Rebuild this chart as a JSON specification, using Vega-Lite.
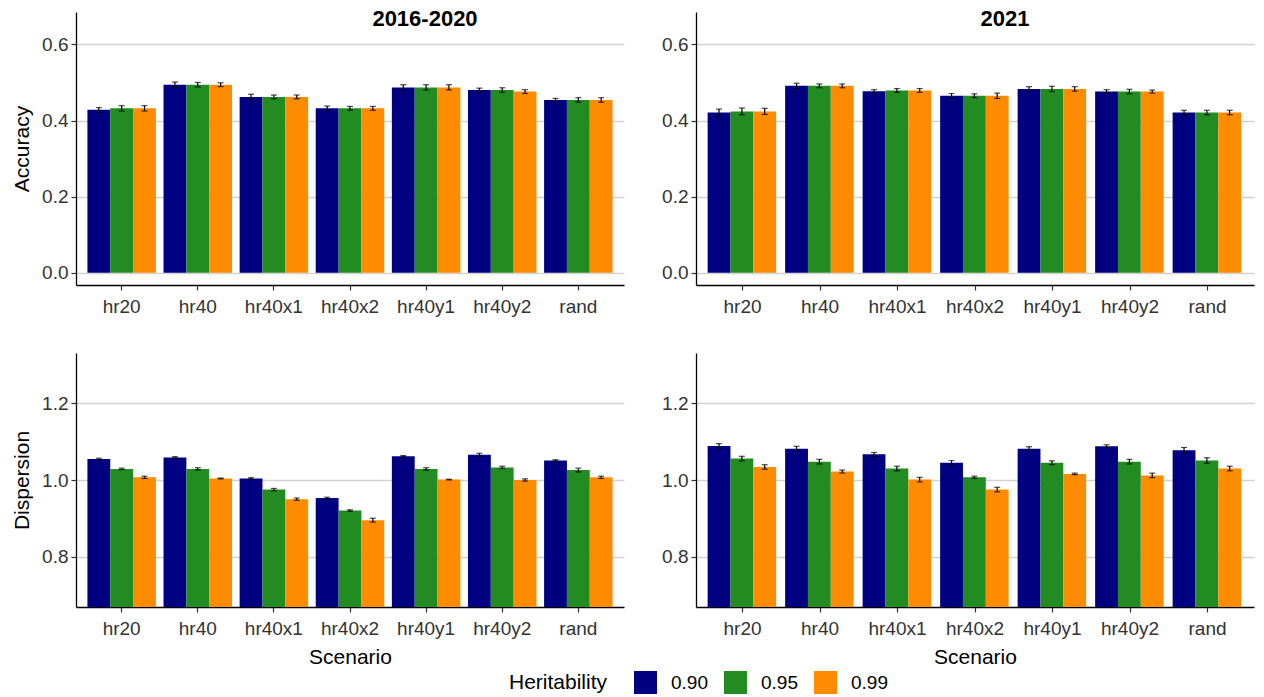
{
  "$schema": "https://vega.github.io/schema/vega-lite/v6.json",
  "padding": {"left": 11, "top": 8, "right": 5, "bottom": 0},
  "autosize": {"type": "pad"},
  "config": {
    "font": "Liberation Sans",
    "view": {"stroke": null},
    "axis": {
      "domainColor": "black", "domainWidth": 1.3,
      "tickColor": "#333333", "tickSize": 5, "tickWidth": 1.2,
      "labelColor": "#333333", "labelFontSize": 19, "labelFont": "Liberation Sans",
      "titleFontSize": 21, "titleFontWeight": "normal", "titleColor": "black", "titleFont": "Liberation Sans",
      "gridColor": "#d2d2d2", "gridWidth": 1.3
    },
    "axisX": {"grid": false, "labelAngle": 0, "labelPadding": 7, "titlePadding": 8},
    "axisY": {"grid": true, "labelPadding": 3, "titlePadding": 9},
    "title": {"font": "Liberation Sans", "fontSize": 22, "fontWeight": "bold", "color": "black"},
    "legend": {
      "orient": "none", "legendX": 433, "legendY": 659, "direction": "horizontal",
      "titleOrient": "left", "titleFontSize": 21, "titleFontWeight": "normal", "titleColor": "black",
      "titlePadding": 26, "labelFontSize": 19, "labelColor": "black", "labelOffset": 14,
      "symbolType": "square", "symbolSize": 529, "symbolStrokeWidth": 0, "symbolOpacity": 1,
      "columnPadding": 16
    }
  },
  "datasets": {
    "d": [
      {"p":"2016-2020","m":"Accuracy","s":"hr20","h":"0.90","v":0.428,"lo":0.422,"hi":0.434},
      {"p":"2016-2020","m":"Accuracy","s":"hr20","h":"0.95","v":0.432,"lo":0.425,"hi":0.439},
      {"p":"2016-2020","m":"Accuracy","s":"hr20","h":"0.99","v":0.432,"lo":0.425,"hi":0.439},
      {"p":"2016-2020","m":"Accuracy","s":"hr40","h":"0.90","v":0.494,"lo":0.487,"hi":0.501},
      {"p":"2016-2020","m":"Accuracy","s":"hr40","h":"0.95","v":0.494,"lo":0.488,"hi":0.500},
      {"p":"2016-2020","m":"Accuracy","s":"hr40","h":"0.99","v":0.494,"lo":0.489,"hi":0.499},
      {"p":"2016-2020","m":"Accuracy","s":"hr40x1","h":"0.90","v":0.462,"lo":0.455,"hi":0.469},
      {"p":"2016-2020","m":"Accuracy","s":"hr40x1","h":"0.95","v":0.462,"lo":0.457,"hi":0.467},
      {"p":"2016-2020","m":"Accuracy","s":"hr40x1","h":"0.99","v":0.462,"lo":0.457,"hi":0.467},
      {"p":"2016-2020","m":"Accuracy","s":"hr40x2","h":"0.90","v":0.432,"lo":0.426,"hi":0.438},
      {"p":"2016-2020","m":"Accuracy","s":"hr40x2","h":"0.95","v":0.432,"lo":0.427,"hi":0.437},
      {"p":"2016-2020","m":"Accuracy","s":"hr40x2","h":"0.99","v":0.432,"lo":0.427,"hi":0.437},
      {"p":"2016-2020","m":"Accuracy","s":"hr40y1","h":"0.90","v":0.487,"lo":0.480,"hi":0.494},
      {"p":"2016-2020","m":"Accuracy","s":"hr40y1","h":"0.95","v":0.487,"lo":0.480,"hi":0.494},
      {"p":"2016-2020","m":"Accuracy","s":"hr40y1","h":"0.99","v":0.487,"lo":0.480,"hi":0.494},
      {"p":"2016-2020","m":"Accuracy","s":"hr40y2","h":"0.90","v":0.480,"lo":0.475,"hi":0.485},
      {"p":"2016-2020","m":"Accuracy","s":"hr40y2","h":"0.95","v":0.480,"lo":0.474,"hi":0.486},
      {"p":"2016-2020","m":"Accuracy","s":"hr40y2","h":"0.99","v":0.476,"lo":0.471,"hi":0.481},
      {"p":"2016-2020","m":"Accuracy","s":"rand","h":"0.90","v":0.454,"lo":0.450,"hi":0.458},
      {"p":"2016-2020","m":"Accuracy","s":"rand","h":"0.95","v":0.454,"lo":0.448,"hi":0.460},
      {"p":"2016-2020","m":"Accuracy","s":"rand","h":"0.99","v":0.454,"lo":0.448,"hi":0.460},

      {"p":"2021","m":"Accuracy","s":"hr20","h":"0.90","v":0.421,"lo":0.412,"hi":0.430},
      {"p":"2021","m":"Accuracy","s":"hr20","h":"0.95","v":0.424,"lo":0.415,"hi":0.433},
      {"p":"2021","m":"Accuracy","s":"hr20","h":"0.99","v":0.424,"lo":0.416,"hi":0.432},
      {"p":"2021","m":"Accuracy","s":"hr40","h":"0.90","v":0.491,"lo":0.484,"hi":0.498},
      {"p":"2021","m":"Accuracy","s":"hr40","h":"0.95","v":0.491,"lo":0.486,"hi":0.496},
      {"p":"2021","m":"Accuracy","s":"hr40","h":"0.99","v":0.491,"lo":0.486,"hi":0.496},
      {"p":"2021","m":"Accuracy","s":"hr40x1","h":"0.90","v":0.477,"lo":0.473,"hi":0.481},
      {"p":"2021","m":"Accuracy","s":"hr40x1","h":"0.95","v":0.479,"lo":0.474,"hi":0.484},
      {"p":"2021","m":"Accuracy","s":"hr40x1","h":"0.99","v":0.479,"lo":0.474,"hi":0.484},
      {"p":"2021","m":"Accuracy","s":"hr40x2","h":"0.90","v":0.465,"lo":0.459,"hi":0.471},
      {"p":"2021","m":"Accuracy","s":"hr40x2","h":"0.95","v":0.465,"lo":0.460,"hi":0.470},
      {"p":"2021","m":"Accuracy","s":"hr40x2","h":"0.99","v":0.465,"lo":0.458,"hi":0.472},
      {"p":"2021","m":"Accuracy","s":"hr40y1","h":"0.90","v":0.483,"lo":0.477,"hi":0.489},
      {"p":"2021","m":"Accuracy","s":"hr40y1","h":"0.95","v":0.483,"lo":0.476,"hi":0.490},
      {"p":"2021","m":"Accuracy","s":"hr40y1","h":"0.99","v":0.483,"lo":0.477,"hi":0.489},
      {"p":"2021","m":"Accuracy","s":"hr40y2","h":"0.90","v":0.476,"lo":0.471,"hi":0.481},
      {"p":"2021","m":"Accuracy","s":"hr40y2","h":"0.95","v":0.476,"lo":0.470,"hi":0.482},
      {"p":"2021","m":"Accuracy","s":"hr40y2","h":"0.99","v":0.476,"lo":0.472,"hi":0.480},
      {"p":"2021","m":"Accuracy","s":"rand","h":"0.90","v":0.421,"lo":0.415,"hi":0.427},
      {"p":"2021","m":"Accuracy","s":"rand","h":"0.95","v":0.421,"lo":0.415,"hi":0.427},
      {"p":"2021","m":"Accuracy","s":"rand","h":"0.99","v":0.421,"lo":0.415,"hi":0.427},

      {"p":"2016-2020","m":"Dispersion","s":"hr20","h":"0.90","v":1.055,"lo":1.053,"hi":1.057},
      {"p":"2016-2020","m":"Dispersion","s":"hr20","h":"0.95","v":1.029,"lo":1.027,"hi":1.031},
      {"p":"2016-2020","m":"Dispersion","s":"hr20","h":"0.99","v":1.007,"lo":1.004,"hi":1.010},
      {"p":"2016-2020","m":"Dispersion","s":"hr40","h":"0.90","v":1.059,"lo":1.057,"hi":1.061},
      {"p":"2016-2020","m":"Dispersion","s":"hr40","h":"0.95","v":1.029,"lo":1.026,"hi":1.032},
      {"p":"2016-2020","m":"Dispersion","s":"hr40","h":"0.99","v":1.004,"lo":1.003,"hi":1.005},
      {"p":"2016-2020","m":"Dispersion","s":"hr40x1","h":"0.90","v":1.004,"lo":1.002,"hi":1.006},
      {"p":"2016-2020","m":"Dispersion","s":"hr40x1","h":"0.95","v":0.975,"lo":0.972,"hi":0.978},
      {"p":"2016-2020","m":"Dispersion","s":"hr40x1","h":"0.99","v":0.950,"lo":0.947,"hi":0.953},
      {"p":"2016-2020","m":"Dispersion","s":"hr40x2","h":"0.90","v":0.953,"lo":0.951,"hi":0.955},
      {"p":"2016-2020","m":"Dispersion","s":"hr40x2","h":"0.95","v":0.920,"lo":0.918,"hi":0.922},
      {"p":"2016-2020","m":"Dispersion","s":"hr40x2","h":"0.99","v":0.895,"lo":0.890,"hi":0.900},
      {"p":"2016-2020","m":"Dispersion","s":"hr40y1","h":"0.90","v":1.062,"lo":1.060,"hi":1.064},
      {"p":"2016-2020","m":"Dispersion","s":"hr40y1","h":"0.95","v":1.029,"lo":1.026,"hi":1.032},
      {"p":"2016-2020","m":"Dispersion","s":"hr40y1","h":"0.99","v":1.001,"lo":1.000,"hi":1.002},
      {"p":"2016-2020","m":"Dispersion","s":"hr40y2","h":"0.90","v":1.066,"lo":1.062,"hi":1.070},
      {"p":"2016-2020","m":"Dispersion","s":"hr40y2","h":"0.95","v":1.033,"lo":1.030,"hi":1.036},
      {"p":"2016-2020","m":"Dispersion","s":"hr40y2","h":"0.99","v":1.000,"lo":0.997,"hi":1.003},
      {"p":"2016-2020","m":"Dispersion","s":"rand","h":"0.90","v":1.051,"lo":1.049,"hi":1.053},
      {"p":"2016-2020","m":"Dispersion","s":"rand","h":"0.95","v":1.026,"lo":1.021,"hi":1.031},
      {"p":"2016-2020","m":"Dispersion","s":"rand","h":"0.99","v":1.007,"lo":1.004,"hi":1.010},

      {"p":"2021","m":"Dispersion","s":"hr20","h":"0.90","v":1.089,"lo":1.083,"hi":1.095},
      {"p":"2021","m":"Dispersion","s":"hr20","h":"0.95","v":1.056,"lo":1.050,"hi":1.062},
      {"p":"2021","m":"Dispersion","s":"hr20","h":"0.99","v":1.034,"lo":1.028,"hi":1.040},
      {"p":"2021","m":"Dispersion","s":"hr40","h":"0.90","v":1.082,"lo":1.076,"hi":1.088},
      {"p":"2021","m":"Dispersion","s":"hr40","h":"0.95","v":1.048,"lo":1.042,"hi":1.054},
      {"p":"2021","m":"Dispersion","s":"hr40","h":"0.99","v":1.022,"lo":1.018,"hi":1.026},
      {"p":"2021","m":"Dispersion","s":"hr40x1","h":"0.90","v":1.067,"lo":1.062,"hi":1.072},
      {"p":"2021","m":"Dispersion","s":"hr40x1","h":"0.95","v":1.030,"lo":1.024,"hi":1.036},
      {"p":"2021","m":"Dispersion","s":"hr40x1","h":"0.99","v":1.001,"lo":0.995,"hi":1.007},
      {"p":"2021","m":"Dispersion","s":"hr40x2","h":"0.90","v":1.045,"lo":1.039,"hi":1.051},
      {"p":"2021","m":"Dispersion","s":"hr40x2","h":"0.95","v":1.007,"lo":1.004,"hi":1.010},
      {"p":"2021","m":"Dispersion","s":"hr40x2","h":"0.99","v":0.975,"lo":0.969,"hi":0.981},
      {"p":"2021","m":"Dispersion","s":"hr40y1","h":"0.90","v":1.082,"lo":1.077,"hi":1.087},
      {"p":"2021","m":"Dispersion","s":"hr40y1","h":"0.95","v":1.045,"lo":1.040,"hi":1.050},
      {"p":"2021","m":"Dispersion","s":"hr40y1","h":"0.99","v":1.016,"lo":1.014,"hi":1.018},
      {"p":"2021","m":"Dispersion","s":"hr40y2","h":"0.90","v":1.088,"lo":1.084,"hi":1.092},
      {"p":"2021","m":"Dispersion","s":"hr40y2","h":"0.95","v":1.048,"lo":1.042,"hi":1.054},
      {"p":"2021","m":"Dispersion","s":"hr40y2","h":"0.99","v":1.012,"lo":1.006,"hi":1.018},
      {"p":"2021","m":"Dispersion","s":"rand","h":"0.90","v":1.078,"lo":1.071,"hi":1.085},
      {"p":"2021","m":"Dispersion","s":"rand","h":"0.95","v":1.051,"lo":1.044,"hi":1.058},
      {"p":"2021","m":"Dispersion","s":"rand","h":"0.99","v":1.030,"lo":1.024,"hi":1.036}
    ]
  },
  "data": {"name": "d"},
  "columns": 2,
  "bounds": "flush",
  "align": "each",
  "spacing": {"row": 68, "column": 72},
  "resolve": {"scale": {"color": "shared"}, "legend": {"color": "shared"}},
  "concat": [
    {
      "width": 548, "height": 273,
      "title": {"text": "2016-2020", "anchor": "middle", "dx": 75, "offset": -19},
      "transform": [{"filter": "datum.p == '2016-2020' && datum.m == 'Accuracy'"}],
      "encoding": {
        "x": {"field": "s", "type": "nominal", "scale": {"paddingInner": 0.1, "paddingOuter": 0.15}, "axis": {"title": null}},
        "xOffset": {"field": "h", "type": "nominal"}
      },
      "layer": [
        {"mark": {"type": "bar", "clip": true},
         "encoding": {
           "y": {"field": "v", "type": "quantitative", "title": "Accuracy", "scale": {"domain": [-0.032, 0.685], "nice": false, "zero": false}, "axis": {"values": [0, 0.2, 0.4, 0.6], "format": ".1f"}},
           "color": {"field": "h", "type": "nominal", "title": "Heritability", "scale": {"domain": ["0.90", "0.95", "0.99"], "range": ["#000080", "#228B22", "#FF8C00"]}}
         }},
        {"mark": {"type": "rule", "color": "black", "strokeWidth": 1.2},
         "encoding": {"y": {"field": "lo", "type": "quantitative", "title": "Accuracy"}, "y2": {"field": "hi"}}},
        {"mark": {"type": "tick", "color": "black", "thickness": 1.2, "size": 6},
         "encoding": {"y": {"field": "lo", "type": "quantitative", "title": "Accuracy"}}},
        {"mark": {"type": "tick", "color": "black", "thickness": 1.2, "size": 6},
         "encoding": {"y": {"field": "hi", "type": "quantitative", "title": "Accuracy"}}}
      ]
    },
    {
      "width": 558, "height": 273,
      "title": {"text": "2021", "anchor": "middle", "dx": 30, "offset": -19},
      "transform": [{"filter": "datum.p == '2021' && datum.m == 'Accuracy'"}],
      "encoding": {
        "x": {"field": "s", "type": "nominal", "scale": {"paddingInner": 0.1, "paddingOuter": 0.15}, "axis": {"title": null}},
        "xOffset": {"field": "h", "type": "nominal"}
      },
      "layer": [
        {"mark": {"type": "bar", "clip": true},
         "encoding": {
           "y": {"field": "v", "type": "quantitative", "title": null, "scale": {"domain": [-0.032, 0.685], "nice": false, "zero": false}, "axis": {"values": [0, 0.2, 0.4, 0.6], "format": ".1f"}},
           "color": {"field": "h", "type": "nominal", "title": "Heritability", "scale": {"domain": ["0.90", "0.95", "0.99"], "range": ["#000080", "#228B22", "#FF8C00"]}}
         }},
        {"mark": {"type": "rule", "color": "black", "strokeWidth": 1.2},
         "encoding": {"y": {"field": "lo", "type": "quantitative", "title": null}, "y2": {"field": "hi"}}},
        {"mark": {"type": "tick", "color": "black", "thickness": 1.2, "size": 6},
         "encoding": {"y": {"field": "lo", "type": "quantitative", "title": null}}},
        {"mark": {"type": "tick", "color": "black", "thickness": 1.2, "size": 6},
         "encoding": {"y": {"field": "hi", "type": "quantitative", "title": null}}}
      ]
    },
    {
      "width": 548, "height": 254,
      "transform": [{"filter": "datum.p == '2016-2020' && datum.m == 'Dispersion'"}],
      "encoding": {
        "x": {"field": "s", "type": "nominal", "title": "Scenario", "scale": {"paddingInner": 0.1, "paddingOuter": 0.15}},
        "xOffset": {"field": "h", "type": "nominal"}
      },
      "layer": [
        {"mark": {"type": "bar", "clip": true},
         "encoding": {
           "y": {"field": "v", "type": "quantitative", "title": "Dispersion", "scale": {"domain": [0.668, 1.332], "nice": false, "zero": false}, "axis": {"values": [0.8, 1.0, 1.2], "format": ".1f"}},
           "color": {"field": "h", "type": "nominal", "title": "Heritability", "scale": {"domain": ["0.90", "0.95", "0.99"], "range": ["#000080", "#228B22", "#FF8C00"]}}
         }},
        {"mark": {"type": "rule", "color": "black", "strokeWidth": 1.2},
         "encoding": {"y": {"field": "lo", "type": "quantitative", "title": "Dispersion"}, "y2": {"field": "hi"}}},
        {"mark": {"type": "tick", "color": "black", "thickness": 1.2, "size": 6},
         "encoding": {"y": {"field": "lo", "type": "quantitative", "title": "Dispersion"}}},
        {"mark": {"type": "tick", "color": "black", "thickness": 1.2, "size": 6},
         "encoding": {"y": {"field": "hi", "type": "quantitative", "title": "Dispersion"}}}
      ]
    },
    {
      "width": 558, "height": 254,
      "transform": [{"filter": "datum.p == '2021' && datum.m == 'Dispersion'"}],
      "encoding": {
        "x": {"field": "s", "type": "nominal", "title": "Scenario", "scale": {"paddingInner": 0.1, "paddingOuter": 0.15}},
        "xOffset": {"field": "h", "type": "nominal"}
      },
      "layer": [
        {"mark": {"type": "bar", "clip": true},
         "encoding": {
           "y": {"field": "v", "type": "quantitative", "title": null, "scale": {"domain": [0.668, 1.332], "nice": false, "zero": false}, "axis": {"values": [0.8, 1.0, 1.2], "format": ".1f"}},
           "color": {"field": "h", "type": "nominal", "title": "Heritability", "scale": {"domain": ["0.90", "0.95", "0.99"], "range": ["#000080", "#228B22", "#FF8C00"]}}
         }},
        {"mark": {"type": "rule", "color": "black", "strokeWidth": 1.2},
         "encoding": {"y": {"field": "lo", "type": "quantitative", "title": null}, "y2": {"field": "hi"}}},
        {"mark": {"type": "tick", "color": "black", "thickness": 1.2, "size": 6},
         "encoding": {"y": {"field": "lo", "type": "quantitative", "title": null}}},
        {"mark": {"type": "tick", "color": "black", "thickness": 1.2, "size": 6},
         "encoding": {"y": {"field": "hi", "type": "quantitative", "title": null}}}
      ]
    }
  ]
}
